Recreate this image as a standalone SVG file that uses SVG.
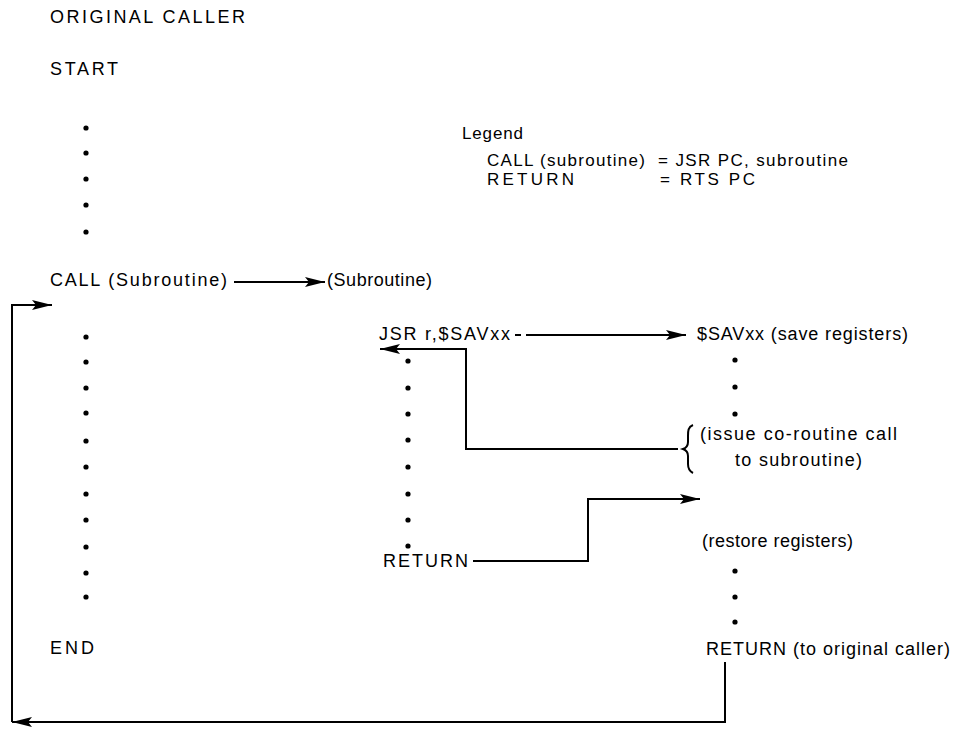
<svg xmlns="http://www.w3.org/2000/svg" width="961" height="730" viewBox="0 0 961 730">
<defs>
<style>
text{font-family:"Liberation Sans",Arial,sans-serif;font-size:18px;fill:#000}
.lg{font-size:17px}
.ln{fill:none;stroke:#000;stroke-width:2}
.dot{fill:#000}
</style>
<marker id="ah" markerUnits="userSpaceOnUse" markerWidth="22" markerHeight="12" refX="20" refY="5" orient="auto">
<path d="M0,0 L20,5 L0,10 L4,5 Z" fill="#000"/>
</marker>
</defs>
<rect width="961" height="730" fill="#fff"/>

<g id="caller">
<text x="50" y="23" textLength="195" lengthAdjust="spacing">ORIGINAL CALLER</text>
<text x="50" y="75" textLength="68" lengthAdjust="spacing">START</text>
<g class="dot">
<circle cx="86" cy="128" r="2.6"/><circle cx="86" cy="153" r="2.6"/><circle cx="86" cy="179" r="2.6"/><circle cx="86" cy="205" r="2.6"/><circle cx="86" cy="232" r="2.6"/>
</g>
<text x="50" y="286" textLength="177" lengthAdjust="spacing">CALL (Subroutine)</text>
<g class="dot">
<circle cx="86" cy="337" r="2.6"/><circle cx="86" cy="362" r="2.6"/><circle cx="86" cy="388" r="2.6"/><circle cx="86" cy="413" r="2.6"/><circle cx="86" cy="441" r="2.6"/><circle cx="86" cy="467" r="2.6"/><circle cx="86" cy="494" r="2.6"/><circle cx="86" cy="520" r="2.6"/><circle cx="86" cy="547" r="2.6"/><circle cx="86" cy="573" r="2.6"/><circle cx="86" cy="597" r="2.6"/>
</g>
<text x="50" y="654" textLength="44" lengthAdjust="spacing">END</text>
</g>

<g id="legend">
<text class="lg" x="462" y="139" textLength="61" lengthAdjust="spacing">Legend</text>
<text class="lg" x="487" y="166" textLength="158" lengthAdjust="spacing">CALL (subroutine)</text>
<text class="lg" x="658" y="166" textLength="190" lengthAdjust="spacing">= JSR PC, subroutine</text>
<text class="lg" x="487" y="185" textLength="87" lengthAdjust="spacing">RETURN</text>
<text class="lg" x="660" y="185" textLength="95" lengthAdjust="spacing">= RTS PC</text>
</g>

<g id="subroutine">
<text x="327" y="286" textLength="105" lengthAdjust="spacing">(Subroutine)</text>
<text x="379" y="340" textLength="131" lengthAdjust="spacing">JSR r,$SAVxx</text>
<g class="dot">
<circle cx="408" cy="361" r="2.6"/><circle cx="408" cy="388" r="2.6"/><circle cx="408" cy="414" r="2.6"/><circle cx="408" cy="440" r="2.6"/><circle cx="408" cy="467" r="2.6"/><circle cx="408" cy="494" r="2.6"/><circle cx="408" cy="520" r="2.6"/><circle cx="408" cy="546" r="2.6"/>
</g>
<text x="383" y="567" textLength="85" lengthAdjust="spacing">RETURN</text>
</g>

<g id="savxx">
<text x="697" y="340" textLength="211" lengthAdjust="spacing">$SAVxx (save registers)</text>
<g class="dot">
<circle cx="735" cy="360" r="2.6"/><circle cx="735" cy="387" r="2.6"/><circle cx="735" cy="414" r="2.6"/>
</g>
<path class="ln" stroke-width="1.6" d="M693,425 C688,427 688,431 688,436 L688,442 C688,446 686,448 683,449 C686,450 688,452 688,456 L688,464 C688,468 689,471 693,473"/>
<text x="700" y="440" textLength="197" lengthAdjust="spacing">(issue co-routine call</text>
<text x="735" y="466" textLength="127" lengthAdjust="spacing">to subroutine)</text>
<text x="702" y="547" textLength="151" lengthAdjust="spacing">(restore registers)</text>
<g class="dot">
<circle cx="735" cy="571" r="2.6"/><circle cx="735" cy="597" r="2.6"/><circle cx="735" cy="622" r="2.6"/>
</g>
<text x="706" y="655" textLength="244" lengthAdjust="spacing">RETURN (to original caller)</text>
</g>

<g id="connectors">
<path class="ln" d="M234,282 H325" marker-end="url(#ah)"/>
<path class="ln" d="M515,335 H521"/>
<path class="ln" d="M526,335 H686" marker-end="url(#ah)"/>
<path class="ln" d="M678,449 H466 V349 H380" marker-end="url(#ah)"/>
<path class="ln" d="M473,561 H588 V499 H700" marker-end="url(#ah)"/>
<path class="ln" d="M725,662 V722 H12" marker-end="url(#ah)"/>
<path class="ln" d="M12,722 V305 H52" marker-end="url(#ah)"/>
</g>
</svg>
